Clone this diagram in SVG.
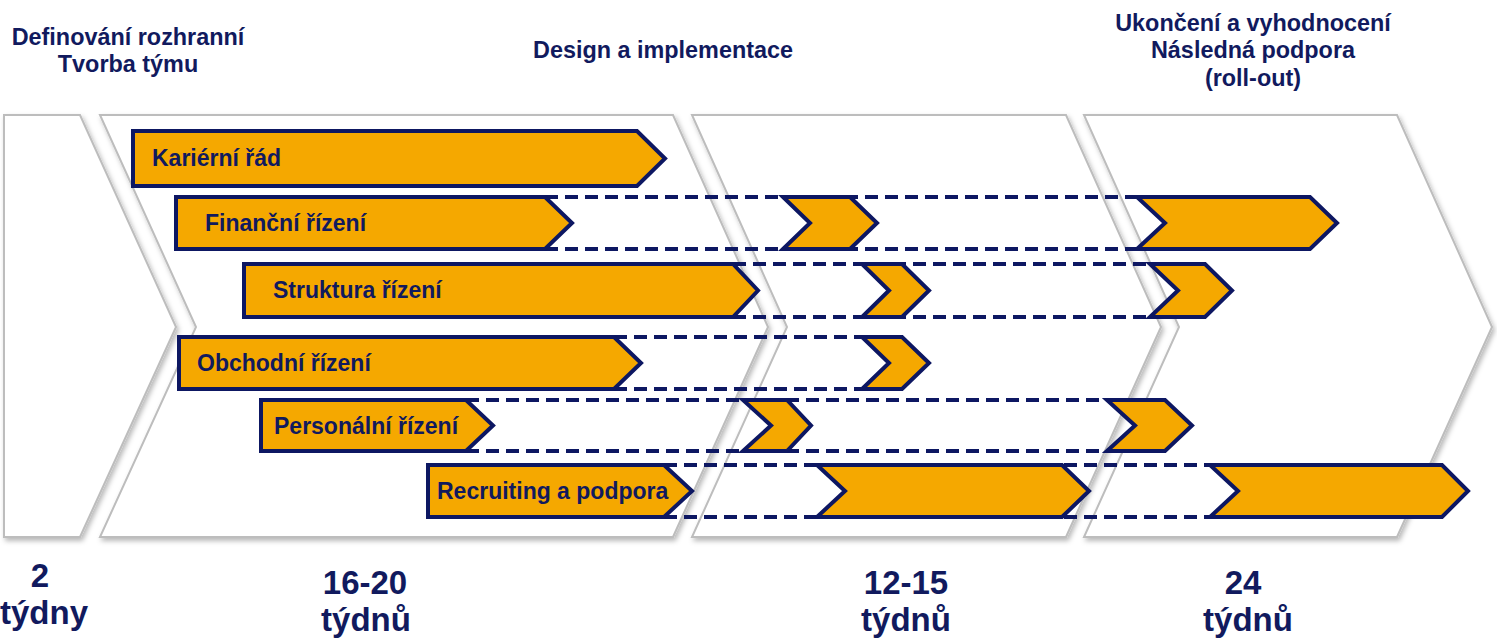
<svg xmlns="http://www.w3.org/2000/svg" width="1497" height="639" viewBox="0 0 1497 639">
  <defs>
    <filter id="soft" x="-5%" y="-5%" width="115%" height="115%">
      <feDropShadow dx="2" dy="3" stdDeviation="2.5" flood-color="#000" flood-opacity="0.28"/>
    </filter>
  </defs>
  <style>
    .stage { fill: #ffffff; stroke: #bdbdbd; stroke-width: 2; filter: url(#soft); }
    .bar { fill: #f5a800; stroke: #0d1762; stroke-width: 4; stroke-linejoin: miter; }
    .dash { stroke: #0d1762; stroke-width: 4; stroke-dasharray: 13 7; fill: none; }
    .lbl { font-family: "Liberation Sans", Arial, sans-serif; font-weight: bold; font-size: 23px; fill: #111a5e; }
    .head { font-family: "Liberation Sans", Arial, sans-serif; font-weight: bold; font-size: 23.4px; fill: #111a5e; text-anchor: middle; }
    .dur { font-family: "Liberation Sans", Arial, sans-serif; font-weight: bold; font-size: 33px; fill: #111a5e; text-anchor: middle; }
  </style>

  <!-- phase chevrons -->
  <g id="phases">
    <path id="phase-1" class="stage" d="M4,115 L80,115 L176,327 L80,537 L4,537 Z"/>
    <path id="phase-2" class="stage" d="M100,115 L673,115 L768,327 L673,537 L100,537 L196,327 Z"/>
    <path id="phase-3" class="stage" d="M692,115 L1066,115 L1161,327 L1066,537 L692,537 L787,327 Z"/>
    <path id="phase-4" class="stage" d="M1084,115 L1397,115 L1492,327 L1397,537 L1084,537 L1179,327 Z"/>
  </g>

  <!-- phase headings -->
  <g id="headings">
    <text class="head" x="128" y="45">Definování rozhranní</text>
    <text class="head" x="128" y="72">Tvorba týmu</text>
    <text class="head" x="663" y="58">Design a implementace</text>
    <text class="head" x="1253" y="31">Ukončení a vyhodnocení</text>
    <text class="head" x="1253" y="58">Následná podpora</text>
    <text class="head" x="1253" y="86">(roll-out)</text>
  </g>

  <!-- dashed continuation lines -->
  <g id="connectors">
    <line class="dash" x1="545" y1="197" x2="1137" y2="197"/>
    <line class="dash" x1="545" y1="249" x2="1137" y2="249"/>
    <line class="dash" x1="733" y1="264" x2="1150" y2="264"/>
    <line class="dash" x1="733" y1="317" x2="1150" y2="317"/>
    <line class="dash" x1="614" y1="337" x2="862" y2="337"/>
    <line class="dash" x1="614" y1="389" x2="862" y2="389"/>
    <line class="dash" x1="466" y1="400" x2="1107" y2="400"/>
    <line class="dash" x1="466" y1="451" x2="1107" y2="451"/>
    <line class="dash" x1="664" y1="465" x2="1210" y2="465"/>
    <line class="dash" x1="664" y1="517" x2="1210" y2="517"/>
  </g>

  <g id="kariery">
    <path class="bar" d="M133,131 L637,131 L665,158.5 L637,186 L133,186 Z"/>
    <text class="lbl" x="152" y="166">Kariérní řád</text>
  </g>

  <g id="financni">
    <path class="bar" d="M176,197 L545,197 L572,223 L545,249 L176,249 Z"/>
    <path class="bar" d="M783,197 L850,197 L877,223 L850,249 L783,249 L810,223 Z"/>
    <path class="bar" d="M1137,197 L1310,197 L1337,223 L1310,249 L1137,249 L1165,223 Z"/>
    <text class="lbl" x="205" y="231">Finanční řízení</text>
  </g>

  <g id="struktura">
    <path class="bar" d="M244,264 L733,264 L758,290.5 L733,317 L244,317 Z"/>
    <path class="bar" d="M862,264 L902,264 L929,290.5 L902,317 L862,317 L889,290.5 Z"/>
    <path class="bar" d="M1150,264 L1205,264 L1232,290.5 L1205,317 L1150,317 L1178,290.5 Z"/>
    <text class="lbl" x="273" y="298">Struktura řízení</text>
  </g>

  <g id="obchodni">
    <path class="bar" d="M179,337 L614,337 L641,363 L614,389 L179,389 Z"/>
    <path class="bar" d="M862,337 L902,337 L929,363 L902,389 L862,389 L889,363 Z"/>
    <text class="lbl" x="197" y="371">Obchodní řízení</text>
  </g>

  <g id="personalni">
    <path class="bar" d="M261,400 L466,400 L493,425.5 L466,451 L261,451 Z"/>
    <path class="bar" d="M743,400 L787,400 L811,425.5 L787,451 L743,451 L771,425.5 Z"/>
    <path class="bar" d="M1107,400 L1165,400 L1192,425.5 L1165,451 L1107,451 L1135,425.5 Z"/>
    <text class="lbl" x="274" y="434">Personální řízení</text>
  </g>

  <g id="recruiting">
    <path class="bar" d="M428,465 L664,465 L692,491 L664,517 L428,517 Z"/>
    <path class="bar" d="M817,465 L1062,465 L1089,491 L1062,517 L817,517 L845,491 Z"/>
    <path class="bar" d="M1210,465 L1442,465 L1468,491 L1442,517 L1210,517 L1238,491 Z"/>
    <text class="lbl" x="437" y="499">Recruiting a podpora</text>
  </g>

  <!-- phase durations -->
  <g id="durations">
    <text class="dur" x="40" y="587">2</text>
    <text class="dur" x="44" y="624">týdny</text>
    <text class="dur" x="365" y="594">16-20</text>
    <text class="dur" x="366" y="631">týdnů</text>
    <text class="dur" x="906" y="594">12-15</text>
    <text class="dur" x="906" y="631">týdnů</text>
    <text class="dur" x="1243" y="594">24</text>
    <text class="dur" x="1248" y="631">týdnů</text>
  </g>
</svg>
